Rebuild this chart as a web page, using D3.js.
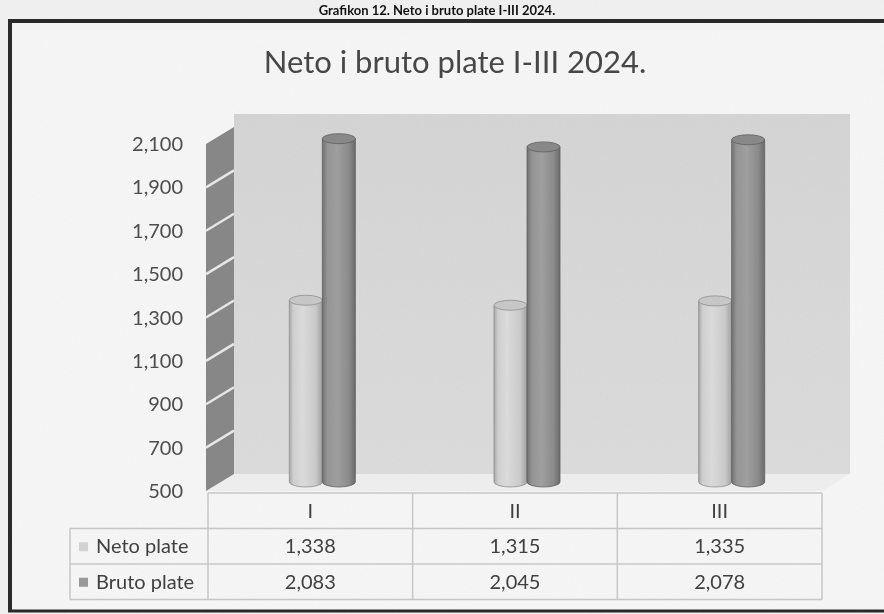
<!DOCTYPE html>
<html>
<head>
<meta charset="utf-8">
<script src="https://cdn.jsdelivr.net/npm/d3@7"></script>
<style>
  body { margin: 0; background: #f2f2f2; }
  svg { display: block; }
  text { font-family: Lato, "Open Sans", sans-serif; }
</style>
</head>
<body>
<div id="chart"></div>
<script>
// data
var categories = ["I", "II", "III"];
var seriesNames = ["Neto plate", "Bruto plate"];
var netoValues = [1338, 1315, 1335];
var brutoValues = [2083, 2045, 2078];
var yTickValues = [500, 700, 900, 1100, 1300, 1500, 1700, 1900, 2100];

var width = 884, height = 614;
var depth = { dx: 28, dy: -17 };      // full depth of the 3d box
var barDepth = { dx: 12, dy: -9 };    // plane the cylinders stand in

var svg = d3.select("#chart").append("svg")
  .attr("width", width)
  .attr("height", height);

var defs = svg.append("defs");

// cylinder shading
function cylGradient(id, stops) {
  var g = defs.append("linearGradient").attr("id", id)
    .attr("x1", "0%").attr("x2", "100%").attr("y1", "0%").attr("y2", "0%");
  stops.forEach(function(s) {
    g.append("stop").attr("offset", s[0]).attr("stop-color", s[1]);
  });
}
cylGradient("grad-neto", [["0%", "#a9a9a9"], ["12%", "#d0d0d0"], ["40%", "#dcdcdc"], ["80%", "#cbcbcb"], ["100%", "#a2a2a2"]]);
cylGradient("grad-bruto", [["0%", "#727272"], ["15%", "#959595"], ["45%", "#a0a0a0"], ["80%", "#8c8c8c"], ["100%", "#6c6c6c"]]);

var wallGrad = defs.append("linearGradient").attr("id", "grad-wall")
  .attr("x1", "0%").attr("x2", "0%").attr("y1", "0%").attr("y2", "100%");
wallGrad.append("stop").attr("offset", "0%").attr("stop-color", "#d5d5d5");
wallGrad.append("stop").attr("offset", "100%").attr("stop-color", "#dcdcdc");

// scanner grain
var grain = defs.append("filter").attr("id", "grain");
grain.append("feTurbulence").attr("type", "fractalNoise").attr("baseFrequency", 0.9).attr("numOctaves", 2).attr("seed", 3);
grain.append("feColorMatrix").attr("type", "saturate").attr("values", 0);

// page + frame
svg.append("rect").attr("width", width).attr("height", height).attr("fill", "#f1f1f1");
svg.append("rect").attr("x", 10).attr("y", 22).attr("width", width - 10).attr("height", 588).attr("fill", "#f6f6f6");

// document caption above the frame (cut off in the scan, kept whole here)
svg.append("text")
  .attr("x", 437).attr("y", 15)
  .attr("text-anchor", "middle")
  .attr("font-size", 13).attr("font-weight", "bold").attr("fill", "#111")
  .text("Grafikon 12. Neto i bruto plate I-III 2024.");

svg.append("line").attr("x1", 8).attr("x2", width).attr("y1", 21).attr("y2", 21)
  .attr("stroke", "#2a2a2a").attr("stroke-width", 4);
svg.append("line").attr("x1", 10).attr("x2", 10).attr("y1", 19).attr("y2", 612)
  .attr("stroke", "#2a2a2a").attr("stroke-width", 4);
svg.append("line").attr("x1", 8).attr("x2", width).attr("y1", 611).attr("y2", 611)
  .attr("stroke", "#2a2a2a").attr("stroke-width", 3);

// title
svg.append("text")
  .attr("x", 455).attr("y", 73)
  .attr("text-anchor", "middle")
  .attr("font-size", 31).attr("fill", "#474747")
  .text("Neto i bruto plate I-III 2024.");

// scales (front plane)
var x0 = d3.scaleBand().domain(categories).range([208, 822]);
var x1 = d3.scaleBand().domain(seriesNames).range([0, x0.bandwidth()])
  .paddingInner(0).paddingOuter(2.1);
var y = d3.scaleLinear().domain([500, 2100]).range([491, 144]);

var frontLeft = 206, frontRight = 822;
var yBase = y(500), yTop = y(2100);

// back wall
svg.append("rect")
  .attr("x", frontLeft + depth.dx).attr("y", 114)
  .attr("width", frontRight - frontLeft)
  .attr("height", yBase + depth.dy - 114)
  .attr("fill", "url(#grad-wall)");

// floor
svg.append("polygon")
  .attr("points", [
    [frontLeft, yBase], [frontLeft + depth.dx, yBase + depth.dy],
    [frontRight + depth.dx, yBase + depth.dy], [frontRight, yBase]
  ].map(function(p) { return p.join(","); }).join(" "))
  .attr("fill", "#efefef");

// side wall
svg.append("polygon")
  .attr("points", [
    [frontLeft, yBase], [frontLeft, yTop],
    [frontLeft + depth.dx, yTop + depth.dy], [frontLeft + depth.dx, yBase + depth.dy]
  ].map(function(p) { return p.join(","); }).join(" "))
  .attr("fill", "#888888");

svg.selectAll(".side-grid")
  .data(yTickValues.slice(1, -1))
  .enter().append("line")
  .attr("class", "side-grid")
  .attr("x1", frontLeft).attr("y1", function(d) { return y(d); })
  .attr("x2", frontLeft + depth.dx).attr("y2", function(d) { return y(d) + depth.dy; })
  .attr("stroke", "#e8e8e8").attr("stroke-width", 2.5);

// y tick labels
svg.selectAll(".y-label")
  .data(yTickValues)
  .enter().append("text")
  .attr("class", "y-label")
  .attr("x", 183).attr("y", function(d) { return y(d) + 7; })
  .attr("text-anchor", "end")
  .attr("font-size", 20).attr("fill", "#4d4d4d")
  .text(function(d) { return d3.format(",")(d); });

// cylinders
var bars = [];
categories.forEach(function(c, i) {
  bars.push({ cat: c, series: seriesNames[0], value: netoValues[i], grad: "grad-neto", top: "#c8c8c8", edge: "#8f8f8f" });
  bars.push({ cat: c, series: seriesNames[1], value: brutoValues[i], grad: "grad-bruto", top: "#8a8a8a", edge: "#606060" });
});

var ry = 5;
var cyl = svg.selectAll(".cyl").data(bars).enter().append("g").attr("class", "cyl");

cyl.append("path")
  .attr("d", function(d) {
    var xl = x0(d.cat) + x1(d.series) + barDepth.dx;
    var w = x1.bandwidth();
    var yt = y(d.value) + barDepth.dy;
    var yb = yBase + barDepth.dy;
    return "M" + xl + "," + yt +
      " L" + xl + "," + yb +
      " A" + (w / 2) + "," + ry + " 0 0 0 " + (xl + w) + "," + yb +
      " L" + (xl + w) + "," + yt + " Z";
  })
  .attr("fill", function(d) { return "url(#" + d.grad + ")"; })
  .attr("stroke", function(d) { return d.edge; })
  .attr("stroke-width", 0.8);

cyl.append("ellipse")
  .attr("cx", function(d) { return x0(d.cat) + x1(d.series) + barDepth.dx + x1.bandwidth() / 2; })
  .attr("cy", function(d) { return y(d.value) + barDepth.dy; })
  .attr("rx", x1.bandwidth() / 2).attr("ry", ry)
  .attr("fill", function(d) { return d.top; })
  .attr("stroke", function(d) { return d.edge; })
  .attr("stroke-width", 0.8);

// data table
var tableLeft = 70, rowTop = 493, rowH = 35.5;
var gridColor = "#c8c8c8";
var table = svg.append("g").attr("class", "data-table");

// horizontal rules
[[frontLeft + 2, rowTop], [tableLeft, rowTop + rowH], [tableLeft, rowTop + 2 * rowH], [tableLeft, rowTop + 3 * rowH]]
  .forEach(function(r) {
    table.append("line").attr("x1", r[0]).attr("x2", frontRight).attr("y1", r[1]).attr("y2", r[1])
      .attr("stroke", gridColor).attr("stroke-width", 1.5);
  });
// vertical rules
table.append("line").attr("x1", tableLeft).attr("x2", tableLeft)
  .attr("y1", rowTop + rowH).attr("y2", rowTop + 3 * rowH)
  .attr("stroke", gridColor).attr("stroke-width", 1.5);
categories.concat([null]).forEach(function(c) {
  var xx = c === null ? frontRight : x0(c);
  table.append("line").attr("x1", xx).attr("x2", xx)
    .attr("y1", rowTop).attr("y2", rowTop + 3 * rowH)
    .attr("stroke", gridColor).attr("stroke-width", 1.5);
});

// header
table.selectAll(".cat-label").data(categories).enter().append("text")
  .attr("class", "cat-label")
  .attr("x", function(d) { return x0(d) + x0.bandwidth() / 2; })
  .attr("y", rowTop + rowH / 2 + 7)
  .attr("text-anchor", "middle")
  .attr("font-size", 20).attr("fill", "#404040")
  .text(function(d) { return d; });

var rows = [
  { name: seriesNames[0], values: netoValues, swatch: "#d4d4d4" },
  { name: seriesNames[1], values: brutoValues, swatch: "#9a9a9a" }
];
rows.forEach(function(r, i) {
  var cy = rowTop + rowH * (i + 1) + rowH / 2;
  table.append("rect").attr("x", 79).attr("y", cy - 4).attr("width", 9).attr("height", 9)
    .attr("fill", r.swatch);
  table.append("text").attr("x", 96).attr("y", cy + 7)
    .attr("font-size", 20).attr("fill", "#404040").text(r.name);
  table.selectAll(null).data(r.values).enter().append("text")
    .attr("x", function(d, j) { return x0(categories[j]) + x0.bandwidth() / 2; })
    .attr("y", cy + 7)
    .attr("text-anchor", "middle")
    .attr("font-size", 20).attr("fill", "#404040")
    .text(function(d) { return d3.format(",")(d); });
});

// light grain over everything, like the scan
svg.append("rect").attr("width", width).attr("height", height)
  .attr("filter", "url(#grain)").attr("opacity", 0.05)
  .style("mix-blend-mode", "multiply");
</script>
</body>
</html>
